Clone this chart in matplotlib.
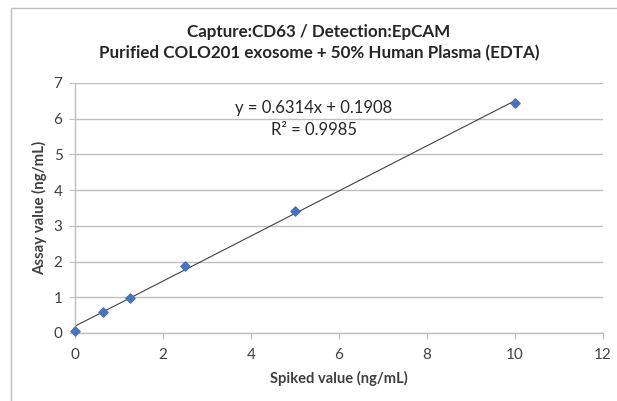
import matplotlib
matplotlib.use('Agg')
import matplotlib.pyplot as plt
from matplotlib.patches import Rectangle

# Dati
spiked = [0, 0.625, 1.25, 2.5, 5, 10]
assay = [0.07, 0.58, 0.97, 1.88, 3.42, 6.45]
slope = 0.6314
intercept = 0.1908
r2 = 0.9985
x_ticks = [0, 2, 4, 6, 8, 10, 12]
y_ticks = [0, 1, 2, 3, 4, 5, 6, 7]

plt.rcParams['font.family'] = ['Lato', 'DejaVu Sans']

fig = plt.figure(figsize=(6.17, 4.01), dpi=100)
fig.patches.append(Rectangle((11 / 617, -0.1), 2, 1 - 8 / 401 + 0.1,
                             transform=fig.transFigure, fill=False,
                             edgecolor='#BFBFBF', linewidth=1))

ax = fig.add_axes([75 / 617, 68 / 401, 528 / 617, 250 / 401])

# linea di tendenza
x_fit = [min(spiked), max(spiked)]
y_fit = [slope * x + intercept for x in x_fit]
ax.plot(x_fit, y_fit, color='#404040', linewidth=0.8, zorder=2)
ax.scatter(spiked, assay, marker='D', s=22, color='#4472C4', zorder=3, clip_on=False)

ax.set_xlim(0, 12)
ax.set_ylim(0, 7)
ax.set_xticks(x_ticks)
ax.set_yticks(y_ticks)
ax.grid(axis='y', color='#BFBFBF', linewidth=1)
ax.set_axisbelow(True)
for s in ['top', 'right']:
    ax.spines[s].set_visible(False)
for s in ['left', 'bottom']:
    ax.spines[s].set_color('#BFBFBF')
    ax.spines[s].set_linewidth(1)
ax.tick_params(axis='both', colors='#BFBFBF', labelcolor='#404040', labelsize=11,
               length=4, direction='out')
ax.tick_params(axis='x', pad=7)
ax.tick_params(axis='y', pad=5)

ax.set_xlabel('Spiked value (ng/mL)', fontsize=10.6, fontweight='bold', color='#404040', labelpad=6)
ax.set_ylabel('Assay value (ng/mL)', fontsize=10.8, fontweight='bold', color='#404040', labelpad=5)

title_x = 319 / 617
fig.text(title_x, 1 - 32 / 401, 'Capture:CD63 / Detection:EpCAM',
         ha='center', va='center', fontsize=12.25, fontweight='bold', color='#262626')
fig.text(title_x, 1 - 53 / 401,
         'Purified COLO201 exosome + 50% Human Plasma (EDTA)',
         ha='center', va='center', fontsize=12.25, fontweight='bold', color='#262626')

ax.text(5.43, 6.3, f'y = {slope}x + {intercept}', ha='center', va='center',
        fontsize=12, color='#262626')
ax.text(5.43, 5.68, f'R² = {r2}', ha='center', va='center', fontsize=12, color='#262626')

fig.savefig('out.png', dpi=100)
plt.close(fig)
